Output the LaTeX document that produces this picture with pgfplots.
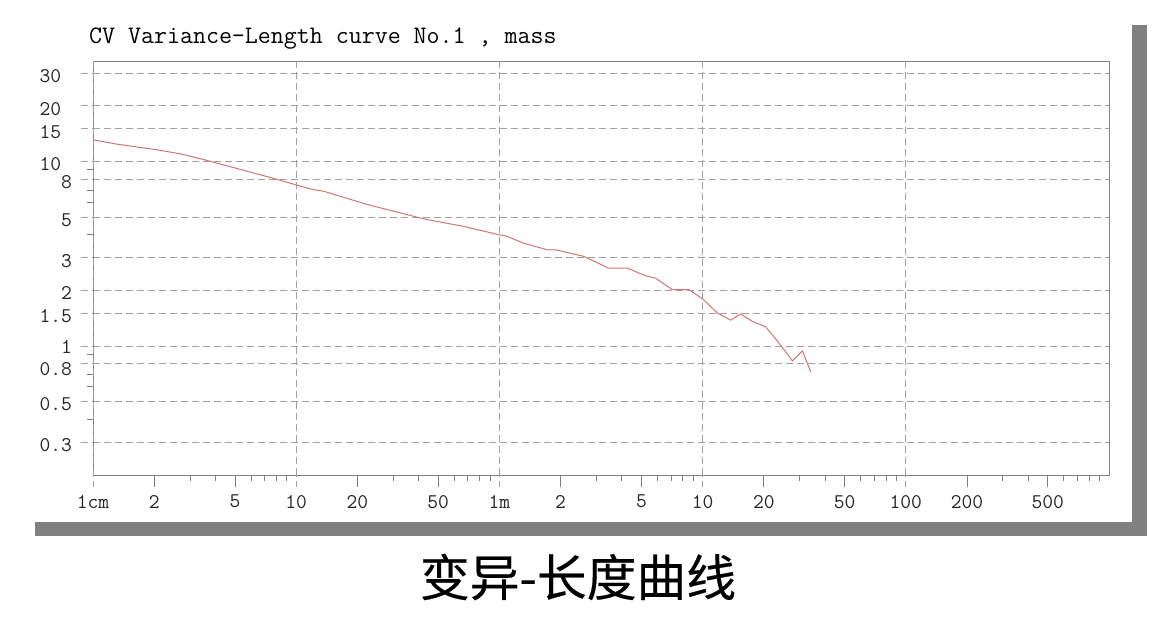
\documentclass[border=0pt]{standalone}
\usepackage{fontspec}
\usepackage{pgfplots}
\pgfplotsset{compat=1.18}
\newfontfamily\cjk{Noto Sans CJK SC}[FakeBold=0.4]
\definecolor{axisgray}{RGB}{128,128,128}
\definecolor{gridgray}{RGB}{160,160,160}
\definecolor{shadow}{RGB}{128,128,128}
\definecolor{curve}{RGB}{208,118,118}
\begin{document}
\begin{tikzpicture}[x=1bp,y=1bp]
\useasboundingbox (0,0) rectangle (1171,624);
% panel with drop shadow
\fill[shadow] (35,88) rectangle (1147,599);
\fill[white] (20,102) rectangle (1132,614);

\begin{axis}[
    at={(93bp,149bp)}, anchor=south west,
    scale only axis,
    width=1016bp, height=414bp,
    xmode=log, ymode=log,
    xmin=1, xmax=100000,
    ymin=0.2, ymax=35,
    axis line style={draw=axisgray, line width=0.9bp},
    xtick pos=bottom, ytick pos=left,
    tick align=outside,
    major tick length=12bp,
    minor tick length=6bp,
    tick style={draw=axisgray, line width=0.9bp},
    ticklabel style={font=\fontsize{21}{21}\ttfamily, text=black!85, inner sep=0pt},
    % x axis: cm up to 1m, then m
    xtick={2,5,20,50,200,500,2000,5000,20000,50000},
    xticklabels={2,5,20,50,2,5,20,50,200,500},
    minor xtick={3,4,6,7,8,9,30,40,60,70,80,90,300,400,600,700,800,900,
                 3000,4000,6000,7000,8000,9000,30000,40000,60000,70000,80000,90000},
    extra x ticks={1,10,100,1000,10000},
    extra x tick labels={1cm,10,1m,10,100},
    extra x tick style={grid=major,
        major x tick style={draw=gridgray, dash pattern=on 6bp off 4bp}},
    xticklabel style={yshift=-8bp},
    % y axis
    ytick={0.3,0.5,0.8,1,1.5,2,3,5,8,10,15,20,30},
    yticklabels={0.3,0.5,\raisebox{-2bp}[\height][0pt]{0.8},\raisebox{2bp}[\height][0pt]{1},1.5,2,3,5,8,10\phantom{0},15\phantom{0},20\phantom{0},30\phantom{0}},
    minor ytick={0.4,0.6,0.7,0.9,4,6,7,9},
    ymajorgrids=true,
    major y tick style={draw=gridgray, dash pattern=on 7bp off 4bp},
    yticklabel style={anchor=east, xshift=-9bp, yshift=-3bp},
    grid style={draw=gridgray, line width=0.9bp, dash pattern=on 7bp off 4bp},
]
\addplot[color=curve, line width=1bp] coordinates {
    (1,13.1)
    (1.31,12.4)
    (2.02,11.6)
    (2.68,11.0)
    (3.48,10.25)
    (4.9,9.27)
    (7.45,8.19)
    (10.1,7.43)
    (12.1,7.04)
    (13.6,6.9)
    (22.4,5.84)
    (32.5,5.26)
    (44,4.84)
    (66.5,4.45)
    (99,4.01)
    (107,3.96)
    (131,3.61)
    (172,3.32)
    (189,3.32)
    (260,3.06)
    (345,2.64)
    (426,2.64)
    (524,2.40)
    (587,2.33)
    (709,2.02)
    (857,2.02)
    (1007,1.79)
    (1181,1.51)
    (1374,1.38)
    (1538,1.49)
    (1757,1.36)
    (2043,1.27)
    (2422,1.01)
    (2767,0.83)
    (3098,0.94)
    (3405,0.725)
};
\end{axis}

\node[anchor=west, inner sep=0pt, font=\fontsize{25.3}{25.3}\ttfamily] at (89,585)
    {CV Variance-Length curve No.1 , mass};
\node[inner sep=0pt, font=\cjk\fontsize{50}{50}\selectfont] at (578,47) {变异-长度曲线};
\end{tikzpicture}
\end{document}
